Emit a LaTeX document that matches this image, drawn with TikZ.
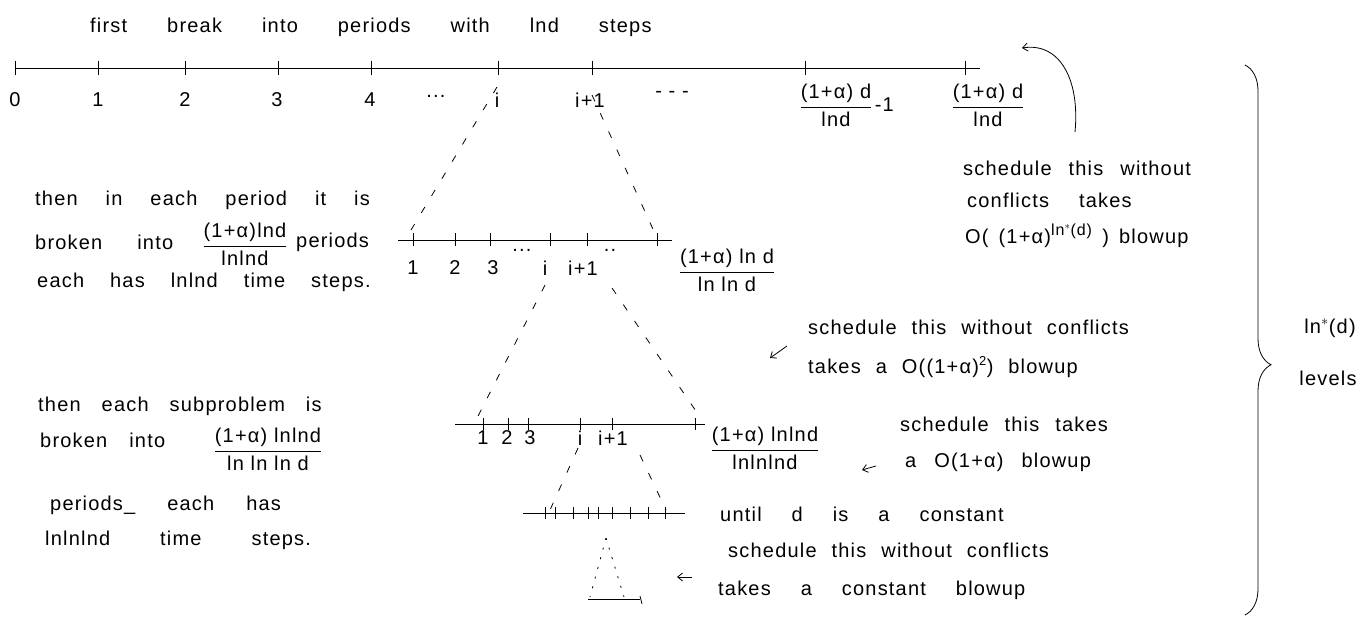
\documentclass[tikz,border=0pt]{standalone}
\usepackage{fontspec}
\setmainfont[LetterSpace=6]{Liberation Sans}
\usetikzlibrary{decorations.pathreplacing,arrows.meta}
\newcommand\hwfrac[2]{$\displaystyle\frac{\mbox{#1}}{\mbox{#2}}$}
\newcommand\hwsize{\fontsize{20}{24}\selectfont}
\tikzset{
  txt/.style={anchor=west,inner sep=0pt,font={\hwsize\spaceskip=#1\relax}},
  txt/.default=16pt,
  lbl/.style={inner sep=0pt,font=\hwsize},
  axis/.style={line width=0.8pt},
  tick/.style={line width=0.8pt},
  zoomline/.style={line width=0.8pt,dash pattern=on 7pt off 13pt},
  pointer/.style={line width=0.8pt,-{Straight Barb[length=5pt,width=8pt]}},
}
\begin{document}
\begin{tikzpicture}[x=1pt,y=-1pt]
\useasboundingbox (0,0) rectangle (1364,618);
% title
\node[txt=40pt] (title) at (90,27) {first break into periods with lnd steps};
% main timeline
\coordinate (a0) at (15,68);
\coordinate (a1) at (980,68);
\draw[axis] (a0) -- (a1);
\foreach \x in {15,98,185,278,371,498,592,805,965}
  \draw[tick] (\x,61) -- (\x,75);
\foreach \x/\t in {15/0,98/1,185/2,277/3,370/4,497/i,590/i+1}
  \node[lbl] at (\x,100) {\t};
\node[lbl] at (436,96) {...};
\node[lbl] at (672,94) {- - -};
\node[lbl] (fa) at (836,105) {\hwfrac{(1+α) d}{lnd}};
\node[lbl,anchor=west] at ([xshift=2pt]fa.east) {-1};
\node[lbl] (fb) at (988,105) {\hwfrac{(1+α) d}{lnd}};
% curved arrow
\coordinate (ca0) at (1075,132);
\coordinate (ca1) at (1022,48);
\draw[pointer] (ca0) .. controls (1080,80) and (1060,42) .. (ca1);
% right text 1
\node[txt=17pt] (r1a) at (963,168) {schedule this without};
\node[txt=30pt] (r1b) at (967,200) {conflicts takes};
\node[txt=10pt] (r1c) at (965,236) {O( (1+α)$^{\mbox{\fontsize{16}{16}\selectfont ln$^*$(d)}}$ ) blowup};
% brace
\coordinate (b0) at (1245,65);
\coordinate (b1) at (1245,615);
\draw[line width=0.8pt,decorate,decoration={brace,amplitude=26pt,aspect=0.545}] (b0) -- (b1);
\node[lbl] (lv1) at (1330,328) {ln$^{*}$(d)};
\node[lbl] (lv2) at (1328,378) {levels};
% zoom lines level 1
\coordinate (z1a) at (497,87);
\coordinate (z1b) at (405,240);
\coordinate (z1c) at (592,95);
\coordinate (z1d) at (657,238);
\draw[zoomline] (z1a) -- (z1b);
\draw[zoomline] (z1c) -- (z1d);
% left text 1
\node[txt=28pt] (l1a) at (35,200) {then in each period it is};
\node[txt=35pt] (l1b) at (35,242) {broken into};
\node[lbl] (l1f) at (245,244) {\hwfrac{(1+α)lnd}{lnlnd}};
\node[txt] (l1c) at (296,242) {periods};
\node[txt=26pt] (l1d) at (37,282) {each has lnlnd time steps.};
% second timeline
\coordinate (s0) at (398,240);
\coordinate (s1) at (672,240);
\draw[axis] (s0) -- (s1);
\foreach \x in {413,455,490,550,587,657}
  \draw[tick] (\x,233) -- (\x,246);
\foreach \x/\t in {413/1,455/2,493/3,545/i,583/i+1}
  \node[lbl] at (\x,268) {\t};
\node[lbl] at (522,250) {...};
\node[lbl] at (610,250) {..};
\node[lbl] (fs) at (727,270) {\hwfrac{(1+α) ln d}{ln ln d}};
% zoom lines level 2
\coordinate (z2a) at (545,285);
\coordinate (z2b) at (476,420);
\coordinate (z2c) at (612,288);
\coordinate (z2d) at (700,417);
\draw[zoomline] (z2a) -- (z2b);
\draw[zoomline] (z2c) -- (z2d);
% middle right text
\draw[pointer] (787,346) -- (770,358);
\node[txt=15pt] (m1a) at (808,327) {schedule this without conflicts};
\node[txt=15pt] (m1b) at (808,367) {takes a O((1+α)$^{\mbox{\fontsize{13}{13}\selectfont 2}}$) blowup};
% left text 2
\node[txt=21pt] (l2a) at (38,406) {then each subproblem is};
\node[txt=22pt] (l2b) at (40,440) {broken into};
\node[lbl] (l2f) at (268,449) {\hwfrac{(1+α) lnlnd}{ln ln ln d}};
\node[txt=32pt] (l2c) at (50,505) {periods\_ each has};
\node[txt=50pt] (l2d) at (45,540) {lnlnlnd time steps.};
% third timeline
\coordinate (t0) at (455,424);
\coordinate (t1) at (705,424);
\draw[axis] (t0) -- (t1);
\foreach \x in {483,508,528,580,612,695}
  \draw[tick] (\x,418) -- (\x,430);
\foreach \x/\t in {483/1,507/2,530/3,580/i,613/i+1}
  \node[lbl] at (\x,438) {\t};
\node[lbl] (ft) at (765,448) {\hwfrac{(1+α) lnlnd}{lnlnlnd}};
% right text 2
\node[txt=16pt] (r2a) at (900,424) {schedule this takes};
\node[txt=18pt] (r2b) at (905,462) {a O(1+α) blowup};
\draw[pointer] (876,466) -- (862,470);
% zoom lines level 3
\coordinate (z3a) at (578,448);
\coordinate (z3b) at (550,510);
\coordinate (z3c) at (640,455);
\coordinate (z3d) at (666,510);
\draw[zoomline] (z3a) -- (z3b);
\draw[zoomline] (z3c) -- (z3d);
% fourth timeline
\coordinate (u0) at (523,513);
\coordinate (u1) at (685,513);
\draw[axis] (u0) -- (u1);
\foreach \x in {545,555,573,588,598,612,630,648,665}
  \draw[tick] (\x,507) -- (\x,519);
\node[txt=30pt] (u1a) at (720,514) {until d is a constant};
\node[txt=15pt] (u1b) at (728,550) {schedule this without conflicts};
\node[txt=30pt] (u1c) at (718,590) {takes a constant blowup};
\draw[pointer] (692,577) -- (677,577);
% final triangle
\coordinate (v0) at (606,538);
\coordinate (v1) at (590,597);
\coordinate (v2) at (624,597);
\draw[line width=0.8pt,dash pattern=on 2pt off 8pt] (v0) -- (v1);
\draw[line width=0.8pt,dash pattern=on 2pt off 8pt] (v0) -- (v2);
\coordinate (w0) at (588,599);
\coordinate (w1) at (640,599);
\draw[axis] (w0) -- (w1);
\draw[tick] (640,596) -- (642,604);
\end{tikzpicture}
\end{document}
